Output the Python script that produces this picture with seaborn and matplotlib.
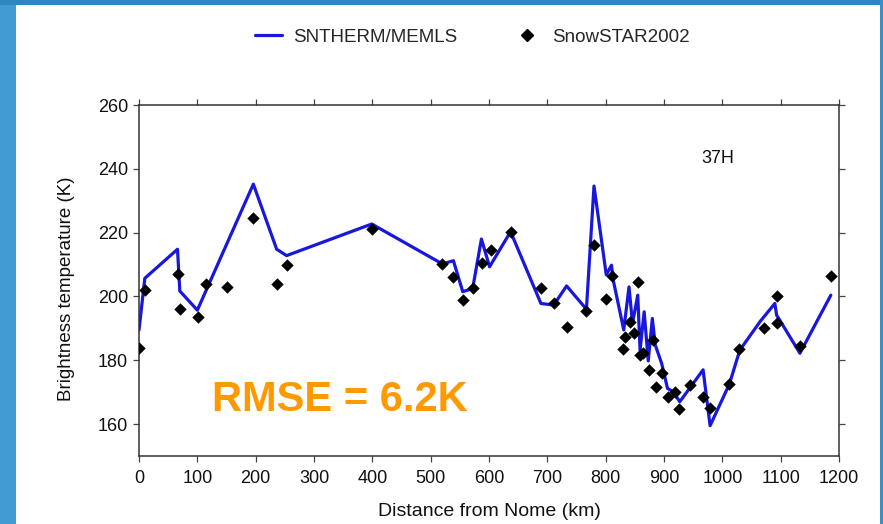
import numpy as np
import pandas as pd
import matplotlib
matplotlib.use("Agg")
import matplotlib.pyplot as plt
from matplotlib.patches import Rectangle
from matplotlib.lines import Line2D
import seaborn as sns

# ---- data ----
model_km = [0, 10, 66, 70, 100, 196, 236, 253, 399, 520, 539, 555, 572, 587, 601,
            637, 689, 711, 733, 767, 780, 801, 810, 813, 831, 840, 846, 855, 859, 866,
            873, 880, 885, 896, 906, 916, 927, 967, 979, 1012, 1030, 1065, 1090, 1093,
            1133, 1186]
model_tb = [189.5, 205.7, 214.8, 201.7, 195.7, 235.2, 214.8, 212.8, 222.7, 210.2,
            211.2, 201.5, 202.5, 218.0, 209.3, 220.3, 197.8, 197.3, 203.3, 196.0,
            234.6, 206.8, 209.8, 205.1, 189.5, 203.0, 191.6, 200.4, 183.2, 195.2,
            179.8, 193.1, 184.8, 179.0, 171.2, 170.1, 167.0, 177.0, 159.5, 172.5,
            183.2, 192.2, 197.8, 194.2, 182.2, 200.4]

obs_km = [0, 10, 66, 70, 101, 115, 150, 196, 237, 254, 400, 520, 539, 555, 572,
          588, 603, 637, 689, 711, 733, 767, 780, 800, 810, 830, 833, 841, 849, 855,
          859, 864, 875, 881, 886, 896, 906, 918, 926, 944, 966, 979, 1011, 1029,
          1072, 1093, 1093, 1133, 1186]
obs_tb = [184.0, 202.0, 207.0, 196.0, 193.5, 204.0, 203.0, 224.5, 203.8, 209.8,
          221.0, 210.2, 206.2, 198.8, 202.5, 210.5, 214.5, 220.2, 202.8, 198.0,
          190.5, 195.5, 216.2, 199.3, 206.4, 183.5, 187.2, 191.9, 188.7, 204.6,
          181.6, 182.3, 176.8, 186.2, 171.6, 176.1, 168.4, 170.1, 164.6, 172.2,
          168.6, 165.0, 172.6, 183.5, 190.2, 200.0, 191.8, 184.5, 206.5]

x_ticks = list(range(0, 1201, 100))
y_ticks = [160, 180, 200, 220, 240, 260]

model_label = "SNTHERM/MEMLS"
obs_label = "SnowSTAR2002"
channel_label = "37H"
rmse_label = "RMSE = 6.2K"
x_title = "Distance from Nome (km)"
y_title = "Brightness temperature (K)"

# ---- style ----
sns.set_theme(style="white")
plt.rcParams["font.family"] = ["Liberation Sans", "DejaVu Sans"]

W, H = 883, 524
fig = plt.figure(figsize=(W / 100, H / 100), dpi=100)
fig.patch.set_facecolor("white")

# slide border
fig.patches.append(Rectangle((0, 0), 16 / W, 1, transform=fig.transFigure,
                             facecolor="#419cd3", edgecolor="none", zorder=0))
fig.patches.append(Rectangle((0, 1 - 5 / H), 1, 5 / H, transform=fig.transFigure,
                             facecolor="#2f86bd", edgecolor="none", zorder=0))
fig.patches.append(Rectangle((1 - 3 / W, 0), 3 / W, 1, transform=fig.transFigure,
                             facecolor="#3a8fc8", edgecolor="none", zorder=0))

left, right, top, bottom = 139, 839, 105, 456
ax = fig.add_axes([left / W, 1 - bottom / H, (right - left) / W, (bottom - top) / H])
ax.set_facecolor("white")

line_color = "#1818dc"
df_model = pd.DataFrame({"km": model_km, "tb": model_tb})
df_obs = pd.DataFrame({"km": obs_km, "tb": obs_tb})

sns.lineplot(data=df_model, x="km", y="tb", ax=ax, color=line_color, linewidth=2.3,
             estimator=None, sort=False, zorder=2)
sns.scatterplot(data=df_obs, x="km", y="tb", ax=ax, marker="D", s=40, color="black",
                edgecolor="black", linewidth=0, zorder=3)

ax.set_xlim(0, 1200)
ax.set_ylim(150, 260)
ax.set_xticks(x_ticks)
ax.set_yticks(y_ticks)
ax.tick_params(axis="both", which="both", direction="out", length=4, width=0.9,
               color="#444444", labelsize=13, labelcolor="#111111",
               top=True, right=True, bottom=True, left=True)
ax.tick_params(axis="x", pad=6)
ax.tick_params(axis="y", pad=4)
for sp in ax.spines.values():
    sp.set_color("#333333")
    sp.set_linewidth(1.1)

ax.set_xlabel(x_title, fontsize=14, color="#111111")
ax.set_ylabel(y_title, fontsize=13.5, color="#111111")
ax.xaxis.set_label_coords(0.5, -0.157)
ax.xaxis.label.set_va("center")
ax.yaxis.set_label_coords(-0.104, 0.476)
ax.yaxis.label.set_va("center")

ax.text(0.827, 0.849, channel_label, transform=ax.transAxes, ha="center",
        va="center", fontsize=13, color="#111111")
ax.text(0.104, 0.128, rmse_label, transform=ax.transAxes, ha="left",
        va="baseline", fontsize=30, fontweight="bold", color="#ff9900")

handles = [Line2D([], [], color=line_color, linewidth=2.3),
           Line2D([], [], marker="D", color="black", linestyle="none", markersize=6.2)]
fig.legend(handles, [model_label, obs_label], loc="center",
           bbox_to_anchor=(472 / W, 1 - 37 / H), ncol=2, frameon=False,
           fontsize=13.5, handlelength=1.45, handletextpad=0.6, columnspacing=3.0)

fig.savefig("out.png", dpi=100)
